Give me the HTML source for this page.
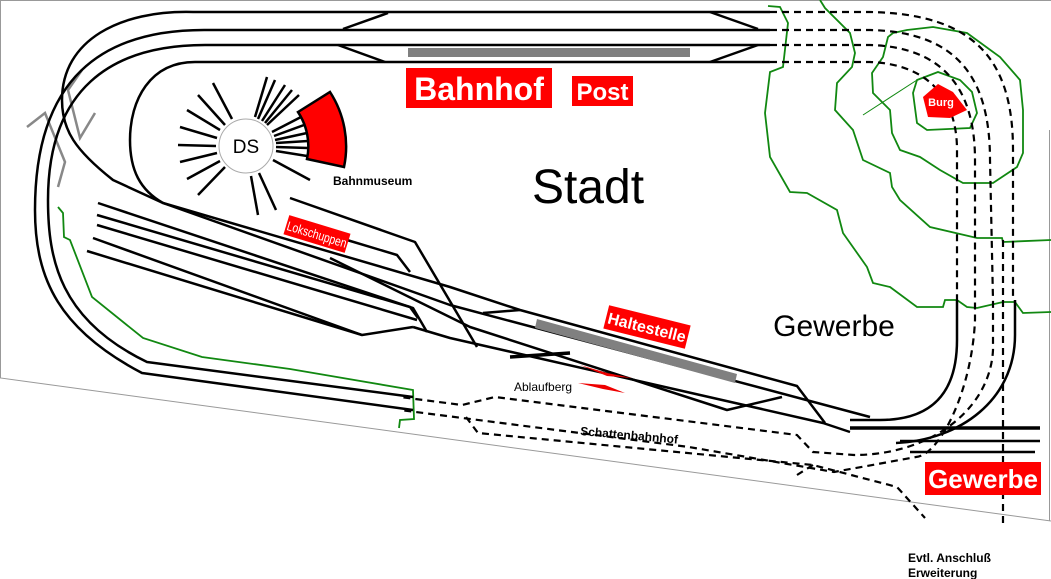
<!DOCTYPE html>
<html><head><meta charset="utf-8"><style>
html,body{margin:0;padding:0;background:#fff;}
svg{display:block;}
text{font-family:"Liberation Sans",sans-serif;}
</style></head><body>
<svg width="1051" height="579" viewBox="0 0 1051 579" xmlns="http://www.w3.org/2000/svg">
<!-- border -->
<g stroke="#999" stroke-width="1" fill="none">
<path d="M0.5,0.5 L1051,0.5 M0.5,0 L0.5,378 L1051,521 M1049.5,130 L1049.5,521"/>
</g>
<!-- gray zigzags -->
<g stroke="#888" stroke-width="2.5" fill="none">
<polyline points="27,127 45,113 65,162 58,187"/>
<polyline points="82,70 68,90 80,138 95,113"/>
</g>
<!-- green contours -->
<g stroke="#118811" stroke-width="1.8" fill="none">
<polyline points="58,207 63,213 64,237 70,240 92,297 143,338 202,357 290,369 413,390 414,419 400,420 399,428"/>
<polyline points="768,6 780,7 788,23 783,67 770,72 765,113 770,157 790,192 807,193 837,210 843,233 867,267 873,283 890,287 917,307 943,307 945,300 957,300 967,307 977,308 1003,302 1015,302 1023,313 1051,312"/>
<polyline points="820,0 825,8 850,33 855,53 852,67 837,83 835,110 853,130 863,160 890,173 892,187 900,200 930,227 977,238 1002,238 1003,242 1051,240"/>
<polygon points="893,33 907,30 933,27 967,33 1000,57 1020,80 1023,110 1023,153 1017,167 993,183 963,183 940,170 920,157 900,150 892,133 890,110 873,93 872,73 883,57 888,37"/>
<polygon points="917,80 938,72 960,80 972,92 977,113 970,128 927,130 917,123 913,93"/>
<line x1="863" y1="115" x2="917" y2="80" stroke-width="1"/>
</g>
<!-- dashed tracks -->
<g stroke="#000" stroke-width="2.2" fill="none" stroke-dasharray="7,5">
<path d="M770,12 L870,12 C975,14 1013,60 1013,150 L1013,300"/>
<path d="M770,30 L870,30 C955,32 990,75 990,160 L993,300 L993,350 C990,410 930,455 854,455 L813,452 L797,435 L495,397 L462,405 L400,397"/>
<path d="M770,45 L870,45 C940,47 975,85 975,160 L975,320 C972,390 940,455 916,457 L834,472 L689,447 L400,410"/>
<path d="M770,62 L870,62 C925,64 957,95 957,150 L957,300"/>
<path d="M466,417 L478,433 L813,465 L897,487 L925,518"/>
<path d="M813,465 L797,475"/>
<path d="M1003,240 L1003,525"/>
</g>
<!-- solid tracks -->
<g stroke="#000" stroke-width="2.5" fill="none" stroke-linejoin="round">
<path d="M770,12 L193,12 C120,10 62,40 62,100 C62,130 75,150 113,180 L163,203 L450,287 L520,310 L797,386 L825,423"/>
<path d="M770,30 L210,30 C100,28 35,80 35,210 C35,280 60,330 142,373 L413,410"/>
<path d="M770,45 L205,45 C110,45 48,90 48,200 C48,260 60,320 147,362 L413,397"/>
<path d="M770,62 L195,62 C150,62 130,100 130,140 C130,170 140,190 163,203"/>
<path d="M343,29 L388,13 M338,45 L385,62 M710,12 L758,29 M710,62 L758,45"/>
<path d="M163,203 L450,305 L870,417"/>
<path d="M290,198 L415,242 L477,347"/>
<path d="M347,240 L397,255 L410,272"/>
<path d="M330,258 L470,327 L727,410 L782,397"/>
<path d="M413,327 L450,338 L823,423 L850,432"/>
<path d="M483,313 L520,310"/>
<path d="M98,203 L413,308 L427,332"/>
<path d="M97,215 L410,307 L418,318"/>
<path d="M97,225 L417,320"/>
<path d="M93,238 L362,335 L413,327"/>
<path d="M87,251 L362,335"/>
<path d="M957,300 L957,340 C957,395 930,420 880,420 L850,420"/>
<path d="M1015,300 L1015,335 C1015,400 960,440 896,443"/>
<path d="M900,441 L1040,441 M910,452 L1035,452"/>
</g>
<path d="M850,428 L1040,428" stroke="#000" stroke-width="3.5"/>
<path d="M510,357 L570,353" stroke="#000" stroke-width="3.5"/>
<!-- platforms -->
<rect x="408" y="48" width="282" height="9" fill="#808080"/>
<polygon points="537,319 737,374 735,383 535,328" fill="#808080"/>
<!-- Ablaufberg red -->
<polygon points="580,365 607,373 632,378 607,376" fill="#e00"/>
<polygon points="578,383 605,385 625,393 603,389" fill="#e00"/>
<!-- turntable -->
<g stroke="#000" stroke-width="2.5">
<line x1="232" y1="119" x2="213" y2="83"/><line x1="225" y1="125" x2="198" y2="95"/>
<line x1="220" y1="130" x2="187" y2="110"/><line x1="217" y1="138" x2="180" y2="127"/>
<line x1="216" y1="146" x2="178" y2="145"/><line x1="217" y1="153" x2="180" y2="162"/>
<line x1="220" y1="161" x2="187" y2="179"/><line x1="225" y1="167" x2="198" y2="195"/>
<line x1="251" y1="176" x2="258" y2="215"/><line x1="259" y1="173" x2="276" y2="210"/>
<line x1="273" y1="160" x2="310" y2="180"/>
<line x1="255" y1="117" x2="267" y2="77"/><line x1="258" y1="119" x2="275" y2="80"/>
<line x1="262" y1="121" x2="285" y2="85"/><line x1="265" y1="123" x2="292" y2="90"/>
<line x1="267" y1="125" x2="299" y2="95"/>
<line x1="272" y1="132" x2="301" y2="117"/><line x1="274" y1="136" x2="304" y2="125"/>
<line x1="275" y1="140" x2="307" y2="133"/><line x1="276" y1="143" x2="308" y2="141"/>
<line x1="276" y1="147" x2="308" y2="148"/><line x1="276" y1="151" x2="307" y2="156"/>
</g>
<path d="M298,112 L330,92 A100,100 0 0 1 344,167 L307,159 A62,62 0 0 0 298,112 Z" fill="#f00" stroke="#000" stroke-width="2.5"/>
<circle cx="246" cy="146" r="27" fill="#fff" stroke="#aaa" stroke-width="1"/>
<text x="246" y="153" font-size="19" text-anchor="middle">DS</text>
<!-- Burg -->
<polygon points="923,97 938,84 953,92 967,110 950,118 928,117" fill="#f00"/>
<text x="941" y="106" font-size="11" font-weight="bold" fill="#fff" text-anchor="middle">Burg</text>
<!-- labels -->
<rect x="406" y="68" width="146" height="40" fill="#f00"/>
<text x="479" y="100" font-size="32" font-weight="bold" fill="#fff" text-anchor="middle">Bahnhof</text>
<rect x="572" y="76" width="61" height="30" fill="#f00"/>
<text x="602.5" y="100" font-size="24" font-weight="bold" fill="#fff" text-anchor="middle">Post</text>
<text x="588" y="203" font-size="48" text-anchor="middle">Stadt</text>
<text x="834" y="336" font-size="30" text-anchor="middle">Gewerbe</text>
<rect x="925" y="462" width="116" height="33" fill="#f00"/>
<text x="983" y="488" font-size="26" font-weight="bold" fill="#fff" text-anchor="middle">Gewerbe</text>
<text x="333" y="185" font-size="12" font-weight="bold">Bahnmuseum</text>
<g transform="translate(317,234) rotate(17)">
<rect x="-32" y="-10" width="64" height="20" fill="#f00"/>
<text x="0" y="5" font-size="13" fill="#fff" text-anchor="middle" transform="scale(0.8,1)">Lokschuppen</text>
</g>
<g transform="translate(647,327) rotate(14)">
<rect x="-42" y="-12" width="84" height="24" fill="#f00"/>
<text x="0" y="6" font-size="16" font-weight="bold" fill="#fff" text-anchor="middle">Haltestelle</text>
</g>
<text x="514" y="391" font-size="12">Ablaufberg</text>
<text x="580" y="435" font-size="12" font-weight="bold" transform="rotate(5,580,435)">Schattenbahnhof</text>
<text x="908" y="562" font-size="12" font-weight="bold">Evtl. Anschluß</text>
<text x="908" y="577" font-size="12" font-weight="bold">Erweiterung</text>
</svg>
</body></html>
